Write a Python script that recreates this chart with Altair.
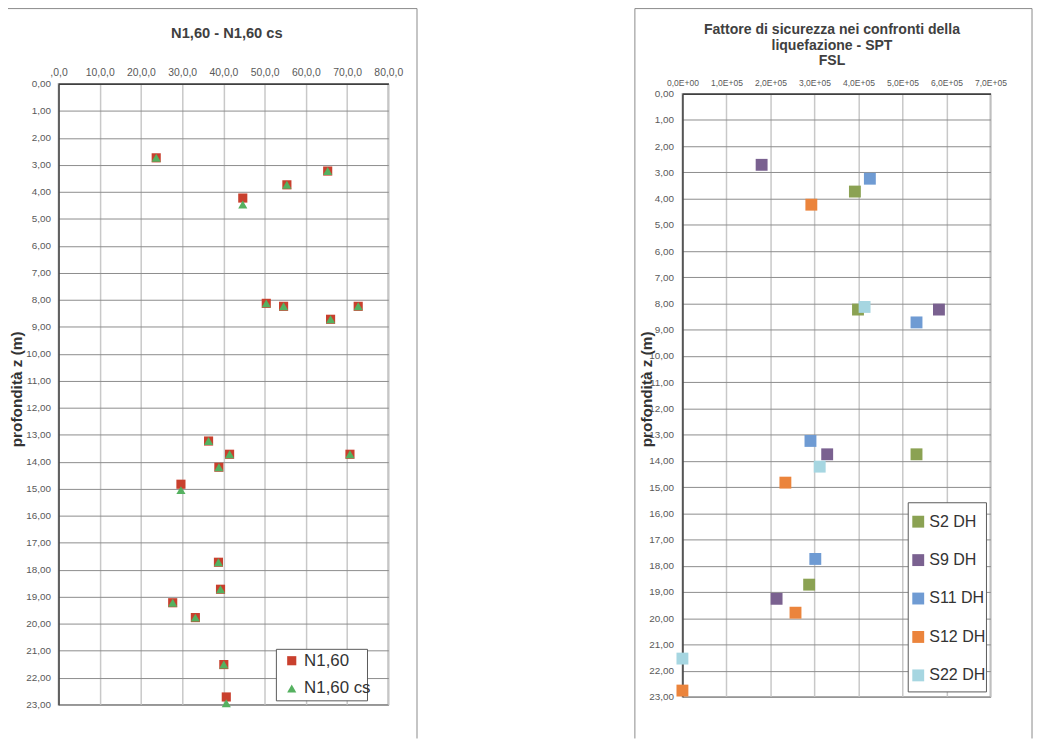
import altair as alt
import pandas as pd

# ---------------- data: left chart (N1,60 - N1,60 cs) ----------------
n160_val = [23.7, 44.7, 55.4, 65.3, 50.4, 54.6, 66.0, 72.7, 36.4, 41.5,
            38.9, 29.7, 70.7, 38.8, 39.3, 27.7, 33.2, 40.1, 40.7]
n160_z = [2.74, 4.23, 3.74, 3.23, 8.13, 8.24, 8.72, 8.24, 13.23, 13.72,
          14.20, 14.83, 13.72, 17.72, 18.72, 19.22, 19.77, 21.51, 22.71]
n160cs_val = [23.7, 44.7, 55.4, 65.3, 50.4, 54.6, 66.0, 72.7, 36.4, 41.5,
              38.9, 29.7, 70.7, 38.8, 39.3, 27.7, 33.2, 40.1, 40.7]
n160cs_z = [2.74, 4.47, 3.74, 3.23, 8.13, 8.24, 8.72, 8.24, 13.23, 13.72,
            14.20, 15.05, 13.72, 17.72, 18.72, 19.22, 19.77, 21.51, 22.94]
left_series = ["N1,60", "N1,60 cs"]
left_colors = ["#C9402E", "#55B160"]
left_ticks_x = [0, 10, 20, 30, 40, 50, 60, 70, 80]

# ---------------- data: right chart (FSL) ----------------
sonde = ["S2 DH", "S9 DH", "S11 DH", "S12 DH", "S22 DH"]
sonde_colors = ["#8BA253", "#7A6190", "#6F9BD3", "#EB843C", "#A6D6E1"]
s2_fsl = [392000, 399000, 532000, 288000]
s2_z = [3.73, 8.23, 13.75, 18.72]
s9_fsl = [180000, 583000, 329000, 214000]
s9_z = [2.71, 8.23, 13.75, 19.26]
s11_fsl = [426000, 532000, 291000, 302000]
s11_z = [3.24, 8.72, 13.24, 17.74]
s12_fsl = [293000, 234000, 257000, 0]
s12_z = [4.23, 14.83, 19.79, 22.76]
s22_fsl = [414000, 312000, 0]
s22_z = [8.13, 14.22, 21.54]
right_ticks_x = [0, 100000, 200000, 300000, 400000, 500000, 600000, 700000]
depth_ticks = list(range(0, 24))

left_title = "N1,60 - N1,60 cs"
right_title_lines = ["Fattore di sicurezza nei confronti della", "liquefazione  - SPT", "FSL"]
y_title = "profondità z (m)"

left_df = pd.DataFrame({
    "valore": n160_val + n160cs_val,
    "z": n160_z + n160cs_z,
    "serie": [left_series[0]] * len(n160_val) + [left_series[1]] * len(n160cs_val),
})

r_vals = s2_fsl + s9_fsl + s11_fsl + s12_fsl + s22_fsl
r_z = s2_z + s9_z + s11_z + s12_z + s22_z
r_names = ([sonde[0]] * len(s2_fsl) + [sonde[1]] * len(s9_fsl) + [sonde[2]] * len(s11_fsl)
           + [sonde[3]] * len(s12_fsl) + [sonde[4]] * len(s22_fsl))
right_df = pd.DataFrame({"fsl": r_vals, "z": r_z, "sonda": r_names})

one = pd.DataFrame({"k": [0]})
FRAME = "#8a8a8a"
LABEL = "#595959"
DEPTH_EXPR = "replace(format(datum.value, '.2f'), '.', ',')"


def vrule(x, y1, y2, color=FRAME, w=1):
    return alt.Chart(one).mark_rule(color=color, strokeWidth=w).encode(
        x=alt.value(x), y=alt.value(y1), y2=alt.value(y2))


def hrule(x1, x2, y, color=FRAME, w=1):
    return alt.Chart(one).mark_rule(color=color, strokeWidth=w).encode(
        x=alt.value(x1), x2=alt.value(x2), y=alt.value(y))


def box(x1, x2, y1, y2):
    return alt.Chart(one).mark_rect(fill="white", stroke="#595959", strokeWidth=1).encode(
        x=alt.value(x1), x2=alt.value(x2), y=alt.value(y1), y2=alt.value(y2))


def title_text(txt, x, y, size):
    return alt.Chart(pd.DataFrame({"t": [txt]})).mark_text(
        fontSize=size, fontWeight="bold", color="#404040", align="center", baseline="middle"
    ).encode(x=alt.value(x), y=alt.value(y), text="t:N")


def spacer():
    return alt.Chart(one).mark_point(opacity=0, size=0).encode(
        x=alt.value(0), y=alt.value(0)
    ).properties(width=1, height=1, view=alt.ViewBackground(stroke="transparent"))


def y_axis(title_x, title_y, pad):
    return alt.Axis(values=depth_ticks, labelExpr=DEPTH_EXPR, grid=True, gridColor="#8c8c8c",
                    gridWidth=1, domainColor="#404040", domainWidth=1.5, ticks=False,
                    labelPadding=pad, labelFontSize=10, labelColor=LABEL,
                    title=y_title, titleFontSize=15.5, titleFontWeight="bold", titleColor="#333333",
                    titleX=title_x, titleY=title_y, titleAngle=270, titleAlign="center",
                    titleBaseline="middle")


# ---------------- left panel ----------------
LW, LH = 333, 627
left_legend = alt.Legend(orient="none", legendX=227, legendY=574, title=None,
                         labelFontSize=17, labelColor="#333333", symbolSize=85,
                         padding=0, rowPadding=10, labelOffset=4)
left_points = alt.Chart(left_df).mark_point(filled=True, opacity=1).encode(
    x=alt.X("valore:Q", scale=alt.Scale(domain=[0, 80], nice=False),
            axis=alt.Axis(orient="top", values=left_ticks_x,
                          labelExpr="datum.value == 0 ? ',0,0' : datum.value + ',0,0'",
                          grid=True, gridColor="#c8c8c8", gridWidth=1.5,
                          domainColor="#404040", domainWidth=1.5, ticks=False,
                          labelPadding=6, labelFontSize=10.5, labelColor=LABEL,
                          labelFlush=False, labelOverlap=False, title=None)),
    y=alt.Y("z:Q", scale=alt.Scale(domain=[0, 23], reverse=True, nice=False),
            axis=y_axis(-42.5, 308, 8)),
    color=alt.Color("serie:N", scale=alt.Scale(domain=left_series, range=left_colors),
                    legend=left_legend),
    shape=alt.Shape("serie:N", scale=alt.Scale(domain=left_series, range=["square", "triangle-up"]),
                    legend=left_legend),
    size=alt.value(85),
    order=alt.Order("serie:N"),
)

left = alt.layer(
    vrule(-52, -76, 661), vrule(362, -76, 661), hrule(-52, 362, -76),
    title_text(left_title, 170, -50, 14.8),
    box(220, 312, 571, 623),
    left_points,
).properties(width=LW, height=LH)

# ---------------- right panel ----------------
RW, RH = 311, 609
right_points = alt.Chart(right_df).mark_point(filled=True, opacity=1, shape="square").encode(
    x=alt.X("fsl:Q", scale=alt.Scale(domain=[0, 700000], nice=False),
            axis=alt.Axis(orient="top", values=right_ticks_x,
                          labelExpr="datum.value == 0 ? '0,0E+00' : format(datum.value / 100000, 'd') + ',0E+05'",
                          grid=True, gridColor="#c8c8c8", gridWidth=1.5,
                          domainColor="#404040", domainWidth=1.5, ticks=False,
                          labelPadding=6, labelFontSize=8.6, labelColor=LABEL,
                          labelFlush=False, labelOverlap=False, title=None)),
    y=alt.Y("z:Q", scale=alt.Scale(domain=[0, 23], reverse=True, nice=False),
            axis=y_axis(-36, 298, 9)),
    color=alt.Color("sonda:N", scale=alt.Scale(domain=sonde, range=sonde_colors),
                    legend=alt.Legend(orient="none", legendX=230, legendY=424, title=None,
                                      labelFontSize=16.2, labelColor="#333333", symbolSize=100,
                                      symbolType="square", padding=0, rowPadding=21.8,
                                      labelOffset=3)),
    size=alt.Size("sonda:N", scale=alt.Scale(domain=sonde, range=[144, 144, 144, 144, 64]),
                  legend=None),
)

right = alt.layer(
    vrule(-48, -86, 651), vrule(353, -86, 651), hrule(-48, 353, -86),
    title_text(right_title_lines[0], 151, -64, 14.2),
    title_text(right_title_lines[1], 151, -48, 14.2),
    title_text(right_title_lines[2], 151, -33, 14.2),
    box(228, 307, 413, 604),
    right_points,
).properties(width=RW, height=RH)

chart = alt.concat(spacer(), spacer(), left, right, columns=2,
                   spacing={"row": 0, "column": 216}, align="none").resolve_scale(
    color="independent", shape="independent", size="independent"
).properties(
    padding={"left": -3, "top": -8, "right": 0, "bottom": 0}
).configure(
    font="Liberation Sans"
).configure_view(stroke="#999999", strokeWidth=1.5)

chart.save("out.html", embed_options={"renderer": "svg", "actions": False})
